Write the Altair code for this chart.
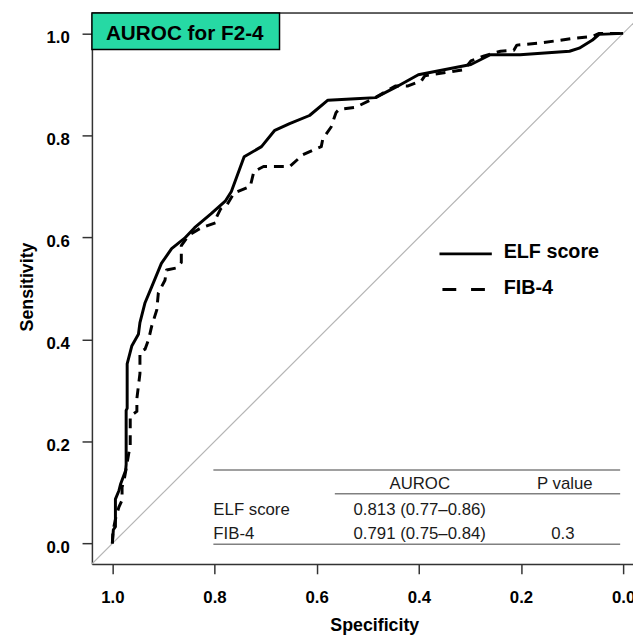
import altair as alt
import pandas as pd

# ---- data ----
elf_spec = [1.000, 0.998, 0.994, 0.994, 0.987, 0.984, 0.974, 0.973, 0.973, 0.971, 0.971,
            0.962, 0.949, 0.946, 0.936, 0.923, 0.904, 0.884, 0.859, 0.839, 0.807, 0.779,
            0.767, 0.742, 0.708, 0.682, 0.653, 0.614, 0.578, 0.524, 0.485, 0.446, 0.401,
            0.298, 0.260, 0.202, 0.105, 0.086, 0.060, 0.047, 0.000]
elf_sens = [0.000, 0.027, 0.033, 0.087, 0.104, 0.116, 0.143, 0.155, 0.261, 0.265, 0.352,
            0.387, 0.410, 0.433, 0.472, 0.503, 0.549, 0.578, 0.598, 0.619, 0.646, 0.671,
            0.690, 0.758, 0.778, 0.810, 0.823, 0.839, 0.869, 0.872, 0.874, 0.894, 0.919,
            0.939, 0.958, 0.958, 0.965, 0.971, 0.987, 0.998, 1.000]

fib_spec = [1.000, 0.999, 0.993, 0.987, 0.981, 0.981, 0.976, 0.965, 0.965, 0.952, 0.952,
            0.946, 0.946, 0.936, 0.929, 0.923, 0.913, 0.910, 0.897, 0.894, 0.875, 0.865,
            0.865, 0.855, 0.846, 0.826, 0.797, 0.797, 0.788, 0.775, 0.762, 0.730, 0.723,
            0.704, 0.653, 0.627, 0.601, 0.591, 0.588, 0.572, 0.562, 0.556, 0.524, 0.485,
            0.446, 0.421, 0.395, 0.388, 0.311, 0.298, 0.272, 0.240, 0.214, 0.208, 0.163,
            0.099, 0.060, 0.047, 0.000]
fib_sens = [0.000, 0.023, 0.052, 0.072, 0.085, 0.110, 0.130, 0.193, 0.250, 0.259, 0.284,
            0.333, 0.375, 0.381, 0.400, 0.426, 0.458, 0.491, 0.516, 0.536, 0.540, 0.551,
            0.584, 0.598, 0.607, 0.619, 0.629, 0.638, 0.656, 0.665, 0.687, 0.700, 0.729,
            0.739, 0.739, 0.762, 0.774, 0.778, 0.793, 0.816, 0.845, 0.851, 0.855, 0.874,
            0.897, 0.897, 0.907, 0.917, 0.929, 0.946, 0.956, 0.965, 0.967, 0.977, 0.981,
            0.990, 0.994, 1.000, 1.000]

diag_spec = [1.04, -0.04]
diag_sens = [-0.04, 1.04]

x_ticks = [1.0, 0.8, 0.6, 0.4, 0.2, 0.0]
y_ticks = [0.0, 0.2, 0.4, 0.6, 0.8, 1.0]

series_names = ["ELF score", "FIB-4"]
auroc_text = ["0.813 (0.77\u20130.86)", "0.791 (0.75\u20130.84)"]
pvalue_text = ["", "0.3"]
table_header = ["AUROC", "P value"]
title_text = "AUROC for F2-4"

# ---- layout ----
W, H = 548, 558
FONT = "Liberation Sans"
FRAME = "#333333"

xs = alt.Scale(domain=[1.04, -0.0193], nice=False, zero=False)
ys = alt.Scale(domain=[-0.04, 1.04], nice=False, zero=False)

x_axis = alt.Axis(values=x_ticks, format=".1f", grid=False, tickSize=10, tickWidth=1.5,
                  tickColor=FRAME, domainColor=FRAME, domainWidth=1.5,
                  labelFont=FONT, labelFontSize=17, labelFontWeight="bold", labelColor="black",
                  labelPadding=16, labelFlush=False,
                  title="Specificity", titleFont=FONT, titleFontSize=18, titleFontWeight="bold",
                  titleColor="black", titleX=286, titleY=67, titleBaseline="alphabetic")
y_axis = alt.Axis(values=y_ticks, format=".1f", grid=False, tickSize=10, tickWidth=1.5,
                  tickColor=FRAME, domainColor=FRAME, domainWidth=1.5,
                  labelFont=FONT, labelFontSize=17, labelFontWeight="bold", labelColor="black",
                  labelPadding=13, labelOffset=4, labelFlush=False,
                  title="Sensitivity", titleFont=FONT, titleFontSize=18, titleFontWeight="bold",
                  titleColor="black", titleX=-60, titleY=277, titleAngle=270,
                  titleBaseline="alphabetic", titleAlign="center")

diag_df = pd.DataFrame({"spec": diag_spec, "sens": diag_sens})
diag = alt.Chart(diag_df).mark_line(color="#b5b5b5", strokeWidth=1.2, clip=True).encode(
    x=alt.X("spec:Q", scale=xs, axis=x_axis),
    y=alt.Y("sens:Q", scale=ys, axis=y_axis),
)

elf_df = pd.DataFrame({"spec": elf_spec, "sens": elf_sens, "o": range(len(elf_spec))})
fib_df = pd.DataFrame({"spec": fib_spec, "sens": fib_sens, "o": range(len(fib_spec))})

elf_line = alt.Chart(elf_df).mark_line(color="black", strokeWidth=3, strokeJoin="round").encode(
    x=alt.X("spec:Q", scale=xs), y=alt.Y("sens:Q", scale=ys), order="o:Q")
fib_line = alt.Chart(fib_df).mark_line(color="black", strokeWidth=3, strokeDash=[10, 7],
                                        strokeJoin="round").encode(
    x=alt.X("spec:Q", scale=xs), y=alt.Y("sens:Q", scale=ys), order="o:Q")

one = pd.DataFrame({"k": [0]})

def txt(s, x, y, size, bold=False, align="left", color="black"):
    return alt.Chart(pd.DataFrame({"t": [s]})).mark_text(
        font=FONT, fontSize=size, fontWeight="bold" if bold else "normal",
        align=align, baseline="alphabetic", color=color).encode(
        text="t:N", x=alt.value(x), y=alt.value(y))

def hline(x1, x2, y, color, width, dash=None):
    kw = dict(color=color, strokeWidth=width)
    if dash:
        kw["strokeDash"] = dash
    return alt.Chart(one).mark_rule(**kw).encode(
        x=alt.value(x1), x2=alt.value(x2), y=alt.value(y))

top_frame = hline(0, W, 0, FRAME, 1.5)

# table
TC = "#1a1a1a"
LC = "#808080"
TS = 17
table = [
    hline(123, 535, 463, LC, 1.5),
    hline(246, 535, 487, LC, 1.5),
    hline(123, 535, 538, LC, 1.5),
    txt(table_header[0], 332, 482, TS, align="center", color=TC),
    txt(table_header[1], 479, 482, TS, align="center", color=TC),
    txt(series_names[0], 123, 508, TS, color=TC),
    txt(auroc_text[0], 332, 508, TS, align="center", color=TC),
    txt(pvalue_text[0], 477, 508, TS, align="center", color=TC),
    txt(series_names[1], 123, 533, TS, color=TC),
    txt(auroc_text[1], 332, 533, TS, align="center", color=TC),
    txt(pvalue_text[1], 477, 533, TS, align="center", color=TC),
]

# legend
legend = [
    hline(352, 405, 244, "black", 3),
    txt(series_names[0], 417, 248, 20, bold=True),
    hline(355, 398, 280, "black", 3, dash=[14, 15]),
    txt(series_names[1], 417, 285, 20, bold=True),
]

# title box
box = alt.Chart(one).mark_rect(fill="#26D9A4", stroke="black", strokeWidth=1.5).encode(
    x=alt.value(0), x2=alt.value(190), y=alt.value(0), y2=alt.value(37))
title = txt(title_text, 94, 27, 21, bold=True, align="center")

chart = alt.layer(diag, *table, elf_line, fib_line, *legend, top_frame, box, title).properties(
    width=W, height=H,
    autosize=alt.AutoSizeParams(type="none"),
    padding={"left": 85, "top": 1, "right": 0, "bottom": 70},
).configure_view(stroke=None).configure(background="white")

chart.save("out.html", embed_options={"renderer": "svg", "actions": False})
